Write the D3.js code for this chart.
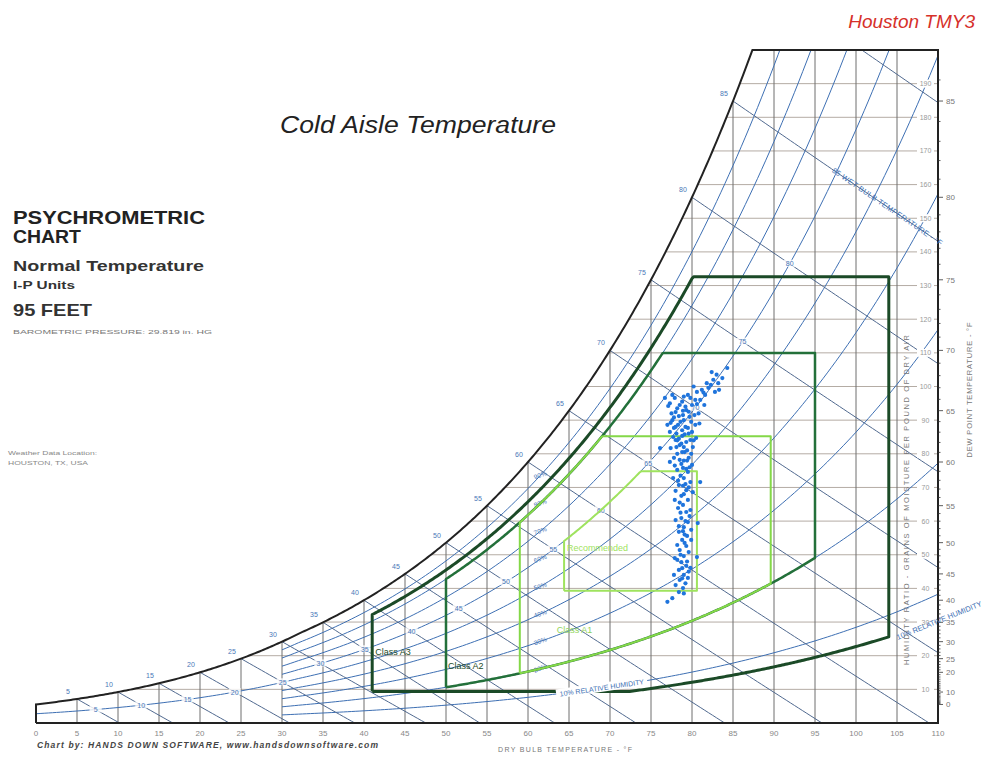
<!DOCTYPE html>
<html>
<head>
<meta charset="utf-8">
<script src="https://cdn.jsdelivr.net/npm/d3@7"></script>
<style>
  body { margin: 0; background: #fff; }
  text { font-family: "Liberation Sans", Arial, sans-serif; }
</style>
</head>
<body>
<svg id="chart" width="999" height="759"></svg>
<script>
// chart values
const dryBulbTicks = d3.range(0, 111, 5);
const grainLines = d3.range(10, 200, 10);
const dewPointLabels = [0, 10, 20, 25, 30, 35, 40, 45, 50, 55, 60, 65, 70, 75, 80, 85];
const rhLevels = [10, 20, 30, 40, 50, 60, 70, 80, 90];
const wetBulbLevels = d3.range(5, 96, 5);
const satLabels = d3.range(5, 86, 5);

// ASHRAE envelopes: [tMin, tMax, rhMin, rhMax, dpMin, dpMax]
const classA3 = [41, 104, 8, 85, 10.4, 75.2];
const classA2 = [50, 95, 20, 80, null, 69.8];
const classA1 = [59, 89.6, 20, 80, null, 62.6];
const recommended = [64.4, 80.6, null, 60, 41.9, 59];

// Houston TMY3 cold aisle points: dry bulb (F) / grains per lb
const pointTemps = [84.3, 83.7, 83.2, 82.6, 82.8, 82.0, 81.6, 81.0, 80.6, 80.0, 79.8, 79.3, 78.9, 78.5, 78.0, 77.3,
  77.1, 77.6, 78.3, 79.0, 79.5, 80.0, 80.4, 78.8, 79.3, 79.8, 78.5, 78.0, 77.4, 76.1, 79.1, 79.6, 78.5, 77.8, 78.9,
  79.5, 78.2, 79.0, 79.8, 81.0, 78.4, 79.3, 78.7, 79.5, 78.9, 78.3, 79.3, 78.7, 79.5, 80.7, 79.0, 78.4, 79.4, 78.8,
  79.3, 78.5, 79.0, 79.6, 80.6, 78.7, 79.3, 78.4, 79.0, 79.5, 78.5, 78.0, 78.9, 78.4, 77.6, 77.0, 77.0, 77.3, 77.8,
  80.5, 80.1, 77.3, 80.0, 77.7, 80.1, 77.9, 79.8, 78.0, 79.9, 78.2, 79.9, 77.9, 79.8, 77.8, 82.4, 83.3, 81.2, 80.4,
  79.5, 77.9, 76.7, 81.5, 78.6, 79.2, 78.1, 79.9, 78.7, 79.4, 78.2, 79.0, 79.7, 78.6, 79.2, 78.0, 79.0, 78.5, 79.7,
  78.9, 79.1, 78.2, 79.4, 78.8, 79.2, 80.8, 81.8, 80.2, 79.6, 78.8, 77.5, 80.9, 79.1,
  78.2, 78.9, 79.7, 77.8, 78.4, 79.2, 80.3, 77.4, 78.0, 78.8, 79.6, 80.2, 77.7, 78.4, 79.0, 79.9, 78.1, 78.8, 79.4,
  77.9, 78.7, 79.3, 78.3, 79.6, 78.9, 78.6, 79.2, 78.4, 79.1, 78.6, 79.6, 78.8, 79.0, 78.2, 80.6, 81.4, 82.3, 83.0,
  77.6, 79.0];
const pointGrains = [105.5, 102.5, 101.0, 102.0, 98.4, 99.6, 97.5, 96.0, 98.4, 94.5, 96.6, 93.0, 91.5, 94.5, 92.4, 95.0,
  94.2, 90.0, 88.6, 90.0, 87.7, 86.5, 88.6, 85.3, 83.5, 84.1, 82.6, 84.1, 81.7, 81.7, 80.5, 78.8, 78.2, 78.8, 75.8,
  74.6, 75.2, 72.8, 71.6, 71.6, 70.7, 69.2, 67.5, 66.3, 64.8, 63.9, 62.7, 60.9, 59.7, 59.4, 58.2, 56.8, 55.6, 54.4,
  52.6, 51.4, 49.6, 50.8, 49.3, 47.8, 46.7, 45.5, 44.0, 43.1, 42.5, 41.0, 40.1, 38.9, 37.1, 36.0, 88.6, 86.5, 87.7,
  84.7, 82.0, 77.6, 76.7, 72.8, 68.6, 66.3, 63.3, 60.3, 57.4, 52.9, 54.4, 49.0, 46.1, 44.0, 104.3, 99.0, 99.0, 96.0,
  97.5, 96.6, 96.6, 94.5, 89.5, 88.0, 86.0, 89.5, 83.0, 81.0, 80.0, 78.0, 76.0, 73.5, 71.0, 69.0, 68.0, 65.5, 61.5,
  57.0, 53.5, 48.5, 48.0, 43.0, 41.5, 92.0, 101.0, 100.0, 92.5, 95.5, 92.0, 89.0, 85.8,
  93.5, 92.8, 91.0, 90.8, 91.2, 94.0, 91.5, 89.2, 88.0, 87.0, 86.0, 84.0, 85.0, 84.5, 82.0, 80.0, 82.0, 80.5, 78.0,
  76.5, 77.0, 75.5, 72.0, 70.0, 70.5, 62.5, 60.0, 58.5, 56.0, 50.0, 45.0, 46.0, 38.5, 84.0, 94.8, 98.2, 100.5, 103.5,
  97.5, 97.0];

// psychrometrics at 29.819 in. Hg
const P = 29.819 * 0.491154;
function pws(t) {
  const T = t + 459.67;
  let ln;
  if (t >= 32) {
    ln = -1.0440397e4 / T - 11.29465 - 2.7022355e-2 * T + 1.289036e-5 * T * T - 2.4780681e-9 * T * T * T + 6.5459673 * Math.log(T);
  } else {
    ln = -1.0214165e4 / T - 4.8932428 - 5.3765794e-3 * T + 1.9202377e-7 * T * T + 3.5575832e-10 * T ** 3 - 9.0344688e-14 * T ** 4 + 4.1635019 * Math.log(T);
  }
  return Math.exp(ln);
}
function grains(t, rh) {
  const pw = rh * pws(t);
  return 7000 * 0.621945 * pw / (P - pw);
}
function dewPoint(g) {
  let lo = -40, hi = 200;
  for (let i = 0; i < 60; i++) {
    const m = (lo + hi) / 2;
    if (grains(m, 1) < g) lo = m; else hi = m;
  }
  return (lo + hi) / 2;
}
function wetBulbGrains(t, twb) {
  const ws = grains(twb, 1) / 7000;
  let w;
  if (twb >= 32) w = ((1093 - 0.556 * twb) * ws - 0.240 * (t - twb)) / (1093 + 0.444 * t - twb);
  else w = ((1220 - 0.04 * twb) * ws - 0.240 * (t - twb)) / (1220 + 0.444 * t - 0.48 * twb);
  return w * 7000;
}
function solve(f, lo, hi) {
  for (let i = 0; i < 60; i++) {
    const m = (lo + hi) / 2;
    if (f(lo) * f(m) <= 0) hi = m; else lo = m;
  }
  return (lo + hi) / 2;
}

const svg = d3.select("#chart");
const x = d3.scaleLinear().domain([0, 110]).range([36, 938]);
const y = d3.scaleLinear().domain([0, 200]).range([723, 50]);
const line = d3.line().x(d => x(d[0])).y(d => y(d[1]));
const tTop = dewPoint(200);

svg.append("clipPath").attr("id", "plot")
  .append("rect").attr("x", x(0)).attr("y", y(200))
  .attr("width", x(110) - x(0)).attr("height", y(0) - y(200));

const grid = svg.append("g").attr("clip-path", "url(#plot)");

// humidity ratio lines
grid.selectAll(".hline").data(grainLines).enter().append("line")
  .attr("x1", g => x(dewPoint(g))).attr("x2", x(110))
  .attr("y1", g => y(g)).attr("y2", g => y(g))
  .attr("stroke", "#b4aca4").attr("stroke-width", 1);

// dry bulb lines
grid.selectAll(".vline").data(dryBulbTicks.filter(t => t > 0 && t < 110)).enter().append("line")
  .attr("x1", t => x(t)).attr("x2", t => x(t))
  .attr("y1", y(0)).attr("y2", t => y(Math.min(200, grains(t, 1))))
  .attr("stroke", "#6e6e6e").attr("stroke-width", 1);

// relative humidity curves
rhLevels.forEach(rh => {
  const start = rh === 50 ? 0 : 30;
  const pts = [];
  for (let t = start; t <= 110.001; t += 0.5) {
    const g = grains(t, rh / 100);
    pts.push([t, g]);
    if (g > 200) break;
  }
  grid.append("path").attr("d", line(pts)).attr("fill", "none")
    .attr("stroke", "#3d6fb3").attr("stroke-width", 1);
});

// wet bulb lines
wetBulbLevels.forEach(twb => {
  const pts = [];
  for (let t = twb; t <= 110.001; t += 0.5) {
    const g = wetBulbGrains(t, twb);
    if (g < 0) { pts.push([solve(tt => wetBulbGrains(tt, twb), t - 0.5, t), 0]); break; }
    pts.push([t, g]);
  }
  grid.append("path").attr("d", line(pts)).attr("fill", "none")
    .attr("stroke", "#50698f").attr("stroke-width", 1);
});

// grains labels on right edge
const gl = svg.append("g");
grainLines.forEach(g => {
  gl.append("rect").attr("x", x(110) - 21).attr("y", y(g) - 4).attr("width", 17).attr("height", 8).attr("fill", "#fff");
  gl.append("text").attr("x", x(110) - 12.5).attr("y", y(g) + 2.5).attr("text-anchor", "middle")
    .attr("font-size", 7).attr("fill", "#999").text(g);
});

// saturation curve and border
const sat = [];
for (let t = 0; t < tTop; t += 0.25) sat.push([t, grains(t, 1)]);
sat.push([tTop, 200]);
const border = [[0, 0]].concat(sat, [[110, 200], [110, 0], [0, 0]]);
svg.append("path").attr("d", line(border)).attr("fill", "none")
  .attr("stroke", "#222").attr("stroke-width", 2);

// saturation temperature labels
svg.selectAll(".satlab").data(satLabels).enter().append("text")
  .attr("x", t => x(t) - 9).attr("y", t => y(grains(t, 1)) - 5)
  .attr("text-anchor", "middle").attr("font-size", 7).attr("fill", "#4a78b8").text(t => t);

// wet bulb labels along the lines
wetBulbLevels.filter(t => t <= 80).forEach(twb => {
  const rh = twb <= 25 ? 0.5 : 0.6;
  const t = solve(tt => wetBulbGrains(tt, twb) - grains(tt, rh), twb + 0.01, twb + 40);
  const g = wetBulbGrains(t, twb);
  svg.append("rect").attr("x", x(t) - 6).attr("y", y(g) - 4).attr("width", 12).attr("height", 7).attr("fill", "#fff").attr("opacity", 0.8);
  svg.append("text").attr("x", x(t)).attr("y", y(g) + 2.5).attr("text-anchor", "middle")
    .attr("font-size", 7).attr("fill", "#4a78b8").text(twb);
});

// RH percent labels
rhLevels.filter(rh => rh >= 20).forEach(rh => {
  const g = grains(61.5, rh / 100);
  svg.append("text").attr("x", x(61.5)).attr("y", y(g) + 2)
    .attr("text-anchor", "middle").attr("font-size", 6.5).attr("fill", "#4a78b8")
    .attr("transform", `rotate(-20,${x(61.5)},${y(g)})`).text(rh + "%");
});

// dew point axis
const dpAxis = svg.append("g");
d3.range(0, 87).forEach(dp => {
  const major = dewPointLabels.includes(dp);
  dpAxis.append("line").attr("x1", x(110)).attr("x2", x(110) + (major ? 5 : 2.5))
    .attr("y1", y(grains(dp, 1))).attr("y2", y(grains(dp, 1)))
    .attr("stroke", "#333").attr("stroke-width", 0.8);
});
dpAxis.selectAll("text").data(dewPointLabels).enter().append("text")
  .attr("x", x(110) + 8).attr("y", d => y(grains(d, 1)) + 3)
  .attr("font-size", 8).attr("fill", "#777").text(d => d);

// dry bulb tick labels
svg.selectAll(".xlab").data(dryBulbTicks).enter().append("text")
  .attr("x", t => x(t)).attr("y", 736).attr("text-anchor", "middle")
  .attr("font-size", 8).attr("fill", "#888").text(t => t);

// ASHRAE class envelopes
function envelope(c) {
  const [tMin, tMax, rhMin, rhMax, dpMin, dpMax] = c;
  const lower = t => Math.max(rhMin ? grains(t, rhMin / 100) : 0, dpMin != null ? grains(dpMin, 1) : 0);
  const upper = t => Math.min(grains(t, rhMax / 100), grains(dpMax, 1));
  const ts = d3.range(tMin, tMax, 0.2).concat([tMax]);
  const pts = ts.map(t => [t, lower(t)]).concat(ts.slice().reverse().map(t => [t, upper(t)]));
  pts.push(pts[0]);
  return line(pts);
}
[[classA3, "#1b4a27", 3], [classA2, "#23703a", 2.5], [classA1, "#84d848", 2], [recommended, "#9fe35e", 2]]
  .forEach(([c, col, w]) => {
    svg.append("path").attr("d", envelope(c)).attr("fill", "none")
      .attr("stroke", col).attr("stroke-width", w).attr("stroke-linejoin", "round");
  });

svg.append("text").attr("x", x(41) + 3).attr("y", y(21) + 3).attr("font-size", 9).attr("fill", "#1b4a27").text("Class A3");
svg.append("text").attr("x", x(50) + 2).attr("y", y(17) + 3).attr("font-size", 9).attr("fill", "#1b4a27").text("Class A2");
svg.append("text").attr("x", x(63.5)).attr("y", y(27.5) + 3).attr("font-size", 9).attr("fill", "#8fd45a").text("Class A1");
svg.append("text").attr("x", x(64.5) + 2).attr("y", y(52) + 3).attr("font-size", 9).attr("fill", "#9fe35e").text("Recommended");

// 10% relative humidity labels
function curveAngle(f, t0, t1) {
  return Math.atan2(y(f(t1)) - y(f(t0)), x(t1) - x(t0)) * 180 / Math.PI;
}
const rh10 = t => grains(t, 0.1);
{
  const t = 69, a = curveAngle(rh10, 65, 73);
  const g = svg.append("g").attr("transform", `translate(${x(t)},${y(rh10(t))}) rotate(${a})`);
  g.append("rect").attr("x", -46).attr("y", -5).attr("width", 92).attr("height", 9).attr("fill", "#fff");
  g.append("text").attr("y", 2.5).attr("text-anchor", "middle").attr("font-size", 7)
    .attr("fill", "#3d6fb3").text("10% RELATIVE HUMIDITY");
}
svg.append("text").attr("transform", `translate(${x(105.1)},${y(24.7)}) rotate(-22)`)
  .attr("font-size", 7.5).attr("fill", "#3d6fb3").text("10% RELATIVE HUMIDITY");

// wet bulb title along the 85 line
{
  const f = t => wetBulbGrains(t, 85);
  const a = curveAngle(f, 97, 110);
  svg.append("text").attr("transform", `translate(${x(97)},${y(f(97)) + 3}) rotate(${a})`)
    .attr("font-size", 7.5).attr("fill", "#3d6fb3").attr("letter-spacing", 0.4)
    .text("85 WET BULB TEMPERATURE - °F");
}

// scatter
svg.append("g").selectAll("circle").data(pointTemps.map((t, i) => [t, pointGrains[i]])).enter()
  .append("circle").attr("cx", d => x(d[0])).attr("cy", d => y(d[1])).attr("r", 2.1)
  .attr("fill", "#1f74dc");

// axis titles
svg.append("text").attr("transform", "translate(909,500) rotate(-90)").attr("text-anchor", "middle")
  .attr("font-size", 7.5).attr("fill", "#777").attr("textLength", 330)
  .text("HUMIDITY RATIO - GRAINS OF MOISTURE PER POUND OF DRY AIR");
svg.append("text").attr("transform", "translate(972,390) rotate(-90)").attr("text-anchor", "middle")
  .attr("font-size", 7.5).attr("fill", "#777").attr("textLength", 135)
  .text("DEW POINT TEMPERATURE - °F");
svg.append("text").attr("x", 498).attr("y", 752).attr("font-size", 7).attr("fill", "#777")
  .attr("textLength", 134).text("DRY BULB TEMPERATURE - °F");
svg.append("text").attr("x", 37).attr("y", 748).attr("font-size", 8.5).attr("font-weight", "bold")
  .attr("font-style", "italic").attr("fill", "#444").attr("textLength", 341)
  .text("Chart by: HANDS DOWN SOFTWARE, www.handsdownsoftware.com");

// titles and left text block
svg.append("text").attr("x", 975).attr("y", 28).attr("text-anchor", "end").attr("font-size", 19)
  .attr("font-style", "italic").attr("fill", "#d6302a").text("Houston TMY3");
svg.append("text").attr("x", 280).attr("y", 133).attr("font-size", 23).attr("font-style", "italic")
  .attr("fill", "#222").attr("textLength", 276).attr("lengthAdjust", "spacingAndGlyphs")
  .text("Cold Aisle Temperature");

const info = [
  ["PSYCHROMETRIC", 224, 19, 192, "bold", "#222"],
  ["CHART", 243, 19, 68, "bold", "#222"],
  ["Normal Temperature", 271, 15, 191, "bold", "#333"],
  ["I-P Units", 289, 10, 62, "bold", "#333"],
  ["95 FEET", 316, 17, 79, "bold", "#333"],
  ["BAROMETRIC PRESSURE: 29.819 in. HG", 334, 6, 199, "normal", "#777"],
  ["Weather Data Location:", 455, 6, 89, "normal", "#888"],
  ["HOUSTON, TX, USA", 465, 6, 80, "normal", "#888"]
];
info.forEach(([s, yy, fs, len, fw, col], i) => {
  svg.append("text").attr("x", i >= 6 ? 8 : 13).attr("y", yy).attr("font-size", fs)
    .attr("font-weight", fw).attr("fill", col).attr("textLength", len)
    .attr("lengthAdjust", "spacingAndGlyphs").text(s);
});
</script>
</body>
</html>
